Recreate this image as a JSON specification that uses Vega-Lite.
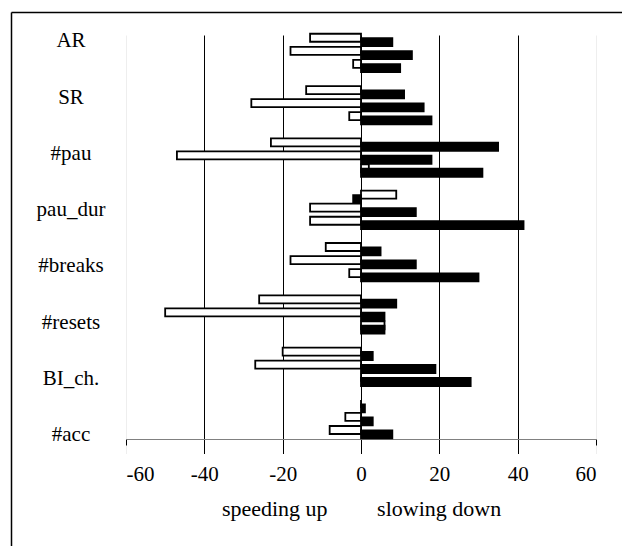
{
  "$schema": "https://vega.github.io/schema/vega-lite/v6.json",
  "autosize": "none",
  "width": 470,
  "height": 404,
  "padding": {"left": 126, "top": 35, "right": 26, "bottom": 107},
  "background": "white",
  "config": {"view": {"stroke": null}, "font": "Liberation Serif, Times New Roman, serif"},
  "data": {"values": [
    {"measure": "AR", "bar": "W1", "series": "white", "value": -13},
    {"measure": "AR", "bar": "B1", "series": "black", "value": 8},
    {"measure": "AR", "bar": "W2", "series": "white", "value": -18},
    {"measure": "AR", "bar": "B2", "series": "black", "value": 13},
    {"measure": "AR", "bar": "W3", "series": "white", "value": -2},
    {"measure": "AR", "bar": "B3", "series": "black", "value": 10},
    {"measure": "SR", "bar": "W1", "series": "white", "value": -14},
    {"measure": "SR", "bar": "B1", "series": "black", "value": 11},
    {"measure": "SR", "bar": "W2", "series": "white", "value": -28},
    {"measure": "SR", "bar": "B2", "series": "black", "value": 16},
    {"measure": "SR", "bar": "W3", "series": "white", "value": -3},
    {"measure": "SR", "bar": "B3", "series": "black", "value": 18},
    {"measure": "#pau", "bar": "W1", "series": "white", "value": -23},
    {"measure": "#pau", "bar": "B1", "series": "black", "value": 35},
    {"measure": "#pau", "bar": "W2", "series": "white", "value": -47},
    {"measure": "#pau", "bar": "B2", "series": "black", "value": 18},
    {"measure": "#pau", "bar": "W3", "series": "white", "value": 2},
    {"measure": "#pau", "bar": "B3", "series": "black", "value": 31},
    {"measure": "pau_dur", "bar": "W1", "series": "white", "value": 9},
    {"measure": "pau_dur", "bar": "B1", "series": "black", "value": -2},
    {"measure": "pau_dur", "bar": "W2", "series": "white", "value": -13},
    {"measure": "pau_dur", "bar": "B2", "series": "black", "value": 14},
    {"measure": "pau_dur", "bar": "W3", "series": "white", "value": -13},
    {"measure": "pau_dur", "bar": "B3", "series": "black", "value": 41.5},
    {"measure": "#breaks", "bar": "W1", "series": "white", "value": -9},
    {"measure": "#breaks", "bar": "B1", "series": "black", "value": 5},
    {"measure": "#breaks", "bar": "W2", "series": "white", "value": -18},
    {"measure": "#breaks", "bar": "B2", "series": "black", "value": 14},
    {"measure": "#breaks", "bar": "W3", "series": "white", "value": -3},
    {"measure": "#breaks", "bar": "B3", "series": "black", "value": 30},
    {"measure": "#resets", "bar": "W1", "series": "white", "value": -26},
    {"measure": "#resets", "bar": "B1", "series": "black", "value": 9},
    {"measure": "#resets", "bar": "W2", "series": "white", "value": -50},
    {"measure": "#resets", "bar": "B2", "series": "black", "value": 6},
    {"measure": "#resets", "bar": "W3", "series": "white", "value": 6},
    {"measure": "#resets", "bar": "B3", "series": "black", "value": 6},
    {"measure": "BI_ch.", "bar": "W1", "series": "white", "value": -20},
    {"measure": "BI_ch.", "bar": "B1", "series": "black", "value": 3},
    {"measure": "BI_ch.", "bar": "W2", "series": "white", "value": -27},
    {"measure": "BI_ch.", "bar": "B2", "series": "black", "value": 19},
    {"measure": "BI_ch.", "bar": "W3", "series": "white", "value": 0},
    {"measure": "BI_ch.", "bar": "B3", "series": "black", "value": 28},
    {"measure": "#acc", "bar": "W1", "series": "white", "value": 0},
    {"measure": "#acc", "bar": "B1", "series": "black", "value": 1},
    {"measure": "#acc", "bar": "W2", "series": "white", "value": -4},
    {"measure": "#acc", "bar": "B2", "series": "black", "value": 3},
    {"measure": "#acc", "bar": "W3", "series": "white", "value": -8},
    {"measure": "#acc", "bar": "B3", "series": "black", "value": 8}
  ]},
  "layer": [
    {
      "mark": {"type": "bar", "height": 8, "stroke": "black", "strokeWidth": 1.8},
      "encoding": {
        "y": {"field": "measure", "type": "nominal",
              "scale": {"domain": ["AR", "SR", "#pau", "pau_dur", "#breaks", "#resets", "BI_ch.", "#acc"],
                        "range": [-14.5, 404], "paddingInner": 0, "paddingOuter": 0},
              "axis": null},
        "yOffset": {"field": "bar", "type": "nominal",
              "scale": {"domain": ["W1", "B1", "g1", "W2", "B2", "g2", "W3", "B3"],
                        "range": [15.1, 49.8], "paddingInner": 0, "paddingOuter": 0}},
        "x": {"field": "value", "type": "quantitative", "stack": null,
              "scale": {"domain": [-60, 60], "nice": false},
              "axis": {"values": [-60, -40, -20, 0, 20, 40, 60],
                       "labelExpr": "datum.value < 0 ? '-' + abs(datum.value) : '' + datum.value",
                       "labelFont": "Liberation Serif, Times New Roman, serif", "labelFontSize": 21, "labelColor": "black",
                       "labelPadding": 18, "tickSize": 6, "tickColor": "black", "tickWidth": 1,
                       "domainColor": "#808080", "domainWidth": 1.2,
                       "grid": true, "gridWidth": 1,
                       "gridColor": {"condition": {"test": "abs(datum.value) == 60", "value": "#eeeeee"}, "value": "black"},
                       "title": "speeding up\u00a0\u00a0\u00a0\u00a0\u00a0\u00a0\u00a0\u00a0\u00a0slowing down",
                       "titleFont": "Liberation Serif, Times New Roman, serif", "titleFontSize": 22, "titleFontWeight": "normal",
                       "titleColor": "black", "titlePadding": 14}},
        "color": {"field": "series", "type": "nominal",
                  "scale": {"domain": ["white", "black"], "range": ["#ffffff", "#000000"]},
                  "legend": null}
      }
    },
    {
      "mark": {"type": "point", "opacity": 0},
      "encoding": {
        "y": {"field": "measure", "type": "nominal",
              "scale": {"type": "band", "domain": ["AR", "SR", "#pau", "pau_dur", "#breaks", "#resets", "BI_ch.", "#acc"],
                        "range": [-23, 520], "paddingInner": 0, "paddingOuter": 0.822, "align": 0.0113},
              "axis": {"orient": "left", "offset": 115, "ticks": false, "tickSize": 0,
                       "labelPadding": -59.5, "labelAlign": "center",
                       "labelFont": "Liberation Serif, Times New Roman, serif", "labelFontSize": 21, "labelColor": "black",
                       "domainColor": "black", "domainWidth": 1.5, "title": null, "grid": false}},
        "x": {"field": "value", "type": "quantitative",
              "scale": {"domain": [-60, 60], "range": [-115, 500], "nice": false, "zero": false},
              "axis": {"orient": "top", "offset": 23, "labels": false, "ticks": false,
                       "domainColor": "black", "domainWidth": 1.5, "title": null, "grid": false}}
      }
    }
  ],
  "resolve": {"scale": {"x": "independent", "y": "independent"}, "axis": {"x": "independent", "y": "independent"}}
}
